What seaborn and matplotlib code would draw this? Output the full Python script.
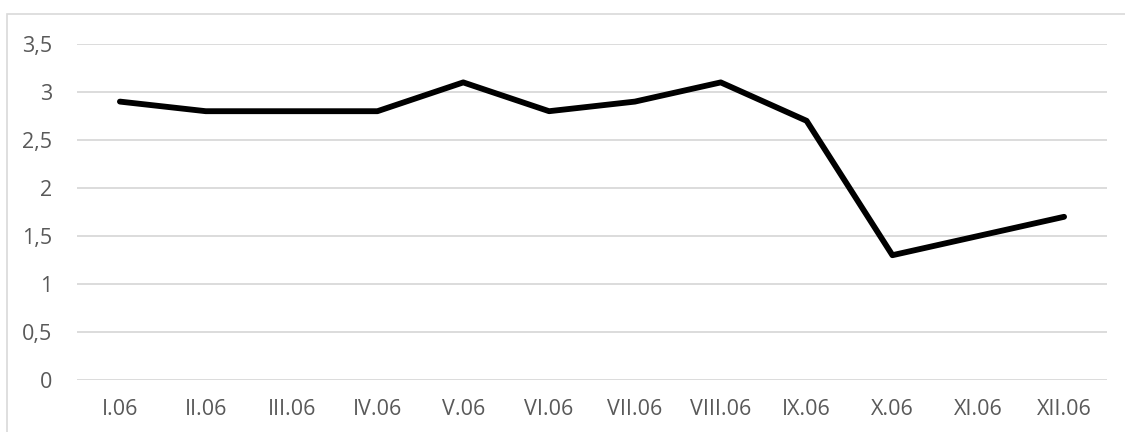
import matplotlib
matplotlib.use("Agg")
import matplotlib.pyplot as plt
from matplotlib.patches import Rectangle
from matplotlib.ticker import FuncFormatter
import seaborn as sns
import pandas as pd

months = ["I.06", "II.06", "III.06", "IV.06", "V.06", "VI.06",
          "VII.06", "VIII.06", "IX.06", "X.06", "XI.06", "XII.06"]
values = [2.9, 2.8, 2.8, 2.8, 3.1, 2.8, 2.9, 3.1, 2.7, 1.3, 1.5, 1.7]
y_ticks = [0, 0.5, 1, 1.5, 2, 2.5, 3, 3.5]

sns.set_theme(style="white")
plt.rcParams["font.family"] = ["Open Sans", "DejaVu Sans"]

df = pd.DataFrame({"month": months, "value": values})

fig = plt.figure(figsize=(11.25, 4.32), dpi=100)
ax = fig.add_axes([77 / 1125, 1 - 380 / 432, 1030 / 1125, 336 / 432])

sns.lineplot(data=df, x="month", y="value", ax=ax, color="black",
             linewidth=4.2, sort=False)
ax.lines[0].set_solid_capstyle("round")
ax.lines[0].set_solid_joinstyle("round")

ax.set_xlim(-0.5, len(months) - 0.5)
ax.set_ylim(0, 3.5)
ax.set_yticks(y_ticks)
ax.yaxis.set_major_formatter(
    FuncFormatter(lambda v, _: (f"{v:g}").replace(".", ",")))
ax.grid(axis="y", color="#d9d9d9", linewidth=1.3)
ax.set_axisbelow(True)
for s in ax.spines.values():
    s.set_visible(False)
ax.tick_params(axis="both", length=0, labelsize=15.5, colors="#595959")
ax.tick_params(axis="y", pad=18)
ax.tick_params(axis="x", pad=14)
ax.set_xlabel("")
ax.set_ylabel("")

# chart-area frame
fig.patches.append(Rectangle((7 / 1125, -0.1), 1.2, 1 - 14 / 432 + 0.1,
                             transform=fig.transFigure, fill=False,
                             edgecolor="#d9d9d9", linewidth=1.2, zorder=0))

fig.savefig("out.png", dpi=100, facecolor="white")
